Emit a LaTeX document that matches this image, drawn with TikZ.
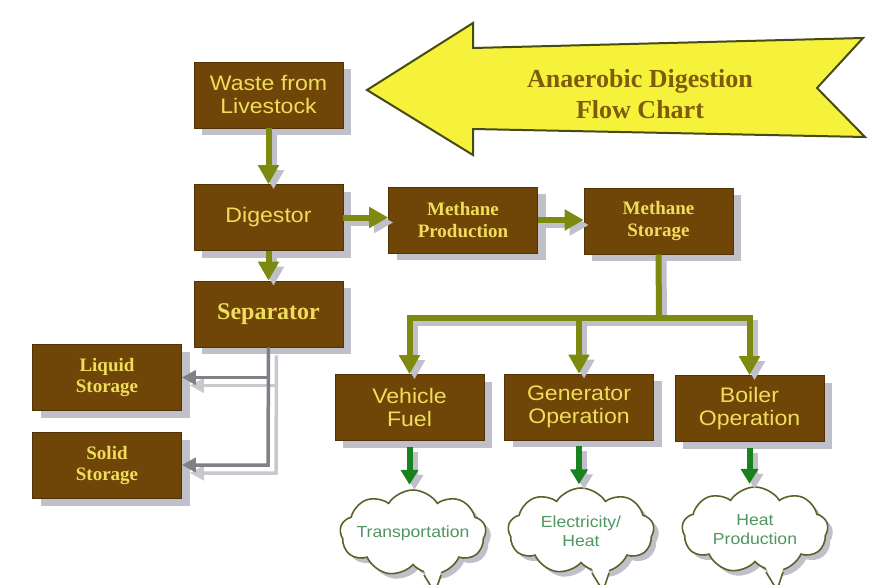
\documentclass[tikz,border=0pt]{standalone}
\usepackage{fontspec}
\newfontfamily\bsans[FakeStretch=1.1]{Liberation Sans}
\newfontfamily\bserif{Liberation Serif}
\usetikzlibrary{arrows.meta,shapes.symbols,shadows,calc}
\definecolor{boxbrown}{RGB}{112,70,8}
\definecolor{boxedge}{RGB}{80,50,5}
\definecolor{boxtext}{RGB}{240,222,90}
\definecolor{olivearr}{RGB}{125,138,15}
\definecolor{greenarr}{RGB}{25,130,30}
\definecolor{shadowgray}{RGB}{192,192,202}
\definecolor{banneryellow}{RGB}{246,242,60}
\definecolor{banneredge}{RGB}{70,75,20}
\definecolor{titletext}{RGB}{125,92,10}
\definecolor{cloudtext}{RGB}{80,150,95}
\definecolor{cloudedge}{RGB}{90,100,40}
\definecolor{sepgray}{RGB}{128,128,135}
\definecolor{sepshadow}{RGB}{200,200,205}
\tikzset{
  box/.style={draw=boxedge, fill=boxbrown, line width=0.6pt, minimum width=149pt,
    minimum height=66pt, text=boxtext, align=center, inner sep=2pt,
    drop shadow={shadow xshift=8pt, shadow yshift=-7pt, fill=shadowgray, opacity=1}},
  sansbox/.style={box, font=\bsans\fontsize{21}{23}\selectfont},
  serifbox/.style={box, font=\bserif\bfseries\fontsize{19}{22}\selectfont},
  oarr/.style={draw=olivearr, line width=6pt, -{Triangle[width=20pt,length=19pt]}},
  oline/.style={draw=olivearr, line width=6pt},
  garr/.style={draw=greenarr, line width=6pt, -{Triangle[width=17pt,length=15pt]}},
  sarr/.style={line width=3.5pt, -{Triangle[width=14pt,length=14pt]}},
  cloudbox/.style={cloud, cloud puffs=9, cloud puff arc=115, aspect=1.6, inner sep=0pt,
    minimum width=146pt, minimum height=86pt, draw=cloudedge, fill=white, line width=1.6pt,
    drop shadow={shadow xshift=5pt, shadow yshift=-5pt, fill=shadowgray, opacity=1}},
  cloudtxt/.style={text=cloudtext, align=center, font=\bsans\fontsize{16}{19}\selectfont},
}
\begin{document}
\begin{tikzpicture}[x=1pt,y=-1pt]
\useasboundingbox (0,0) rectangle (875,584);
\fill[white] (0,0) rectangle (875,584);

% banner
\draw[fill=banneryellow, draw=banneredge, line width=2pt, line join=miter]
  (367,90) -- (473,23) -- (473,48) -- (863,38) -- (817,88) -- (865,137) -- (473,129) -- (473,155) -- cycle;
\node[text=titletext, align=center, font=\bserif\bfseries\fontsize{26}{31}\selectfont] (title) at (640,94)
  {Anaerobic Digestion\\Flow Chart};

% boxes
\node[sansbox] (waste) at (268.5,95) {Waste from\\Livestock};
\node[sansbox] (dig) at (268.5,217.5) {Digestor};
\node[serifbox, font=\bserif\bfseries\fontsize{24}{26}\selectfont] (sep) at (268.5,314) {Separator};
\node[serifbox] (mp) at (463,220) {Methane\\Production};
\node[serifbox] (ms) at (658.5,221) {Methane\\Storage};
\node[serifbox, font=\bserif\bfseries\fontsize{19}{21}\selectfont] (liq) at (107,377.5) {Liquid\\Storage};
\node[serifbox, font=\bserif\bfseries\fontsize{19}{21}\selectfont] (sol) at (107,465.5) {Solid\\Storage};
\node[sansbox] (veh) at (409.5,407.5) {Vehicle\\Fuel};
\node[sansbox] (gen) at (579,407) {Generator\\Operation};
\node[sansbox] (boil) at (749.5,408.5) {Boiler\\Operation};

% clouds
\node[cloudbox] (tr) at (413,533) {};
\node[cloudbox] (el) at (581,531) {};
\node[cloudbox] (hp) at (755,530) {};
\foreach \c in {tr,el,hp}{
  \fill[white] ($(\c.center)+(8,32)$) -- ($(\c.center)+(30,32)$) -- ($(\c.center)+(22,60)$) -- cycle;
  \draw[cloudedge, line width=1.6pt, line join=miter] ($(\c.center)+(11,42)$) -- ($(\c.center)+(22,60)$) -- ($(\c.center)+(28,42)$);
}
\node[cloudtxt] (trt) at (tr.center) {Transportation};
\node[cloudtxt] (elt) at (el.center) {Electricity/\\Heat};
\node[cloudtxt] (hpt) at (hp.center) {Heat\\Production};

\coordinate (bus) at (659,318);
\coordinate (sepbend) at (268,465);

% arrow shadows
\begin{scope}[transform canvas={shift={(5pt,-5pt)}}]
  \draw[oarr, draw=shadowgray] (waste.south) -- (dig.north);
  \draw[oarr, draw=shadowgray] (dig.south) -- (sep.north);
  \draw[oarr, draw=shadowgray] (dig.east) -- (dig.east -| mp.west);
  \draw[oarr, draw=shadowgray] (mp.east) -- (mp.east -| ms.west);
  \draw[oline, draw=shadowgray] (ms.south) -- (bus);
  \draw[oarr, draw=shadowgray] (bus) -| (veh.north);
  \draw[oarr, draw=shadowgray] (bus) -| (boil.north);
  \draw[oarr, draw=shadowgray] (gen.north |- bus) -- (gen.north);
  \draw[garr, draw=shadowgray] ($(veh.south)+(0,6)$) -- ($(veh.south)+(0,44)$);
  \draw[garr, draw=shadowgray] ($(gen.south)+(0,6)$) -- ($(gen.south)+(0,44)$);
  \draw[garr, draw=shadowgray] ($(boil.south)+(0,6)$) -- ($(boil.south)+(0,42)$);
\end{scope}
\begin{scope}[transform canvas={shift={(8pt,-8pt)}}]
  \draw[sarr, draw=sepshadow] (sep.south) -- (sepbend) -- (sepbend -| sol.east);
  \draw[sarr, draw=sepshadow] (sep.south |- liq.east) -- (liq.east);
\end{scope}

% arrows
\draw[oarr] (waste.south) -- (dig.north);
\draw[oarr] (dig.south) -- (sep.north);
\draw[oarr] (dig.east) -- (dig.east -| mp.west);
\draw[oarr] (mp.east) -- (mp.east -| ms.west);
\draw[oline] (ms.south) -- (bus);
\draw[oarr] (bus) -| (veh.north);
\draw[oarr] (bus) -| (boil.north);
\draw[oarr] (gen.north |- bus) -- (gen.north);
\draw[garr] ($(veh.south)+(0,6)$) -- ($(veh.south)+(0,44)$);
\draw[garr] ($(gen.south)+(0,6)$) -- ($(gen.south)+(0,44)$);
\draw[garr] ($(boil.south)+(0,6)$) -- ($(boil.south)+(0,42)$);
\draw[sarr, draw=sepgray] (sep.south) -- (sepbend) -- (sepbend -| sol.east);
\draw[sarr, draw=sepgray] (sep.south |- liq.east) -- (liq.east);
\end{tikzpicture}
\end{document}
